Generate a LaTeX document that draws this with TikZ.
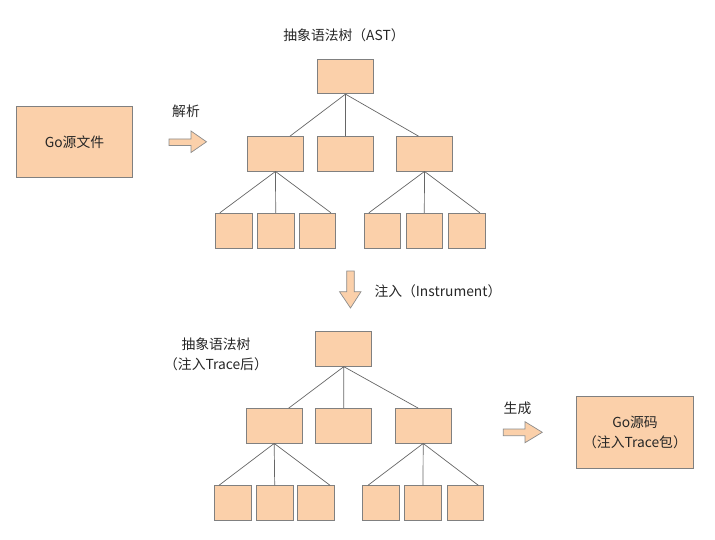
\documentclass[tikz,border=0pt]{standalone}
\usepackage{fontspec}
\setmainfont{Noto Sans CJK SC}
\begin{document}
\begin{tikzpicture}[x=1pt,y=-1pt,
  font=\fontsize{13.8}{20}\selectfont,
  every node/.style={text=black!85},
  box/.style={draw=black!50, line width=0.8pt, fill=peach, inner sep=0pt, text=black!85},
  big/.style={box, minimum width=56pt, minimum height=34.5pt},
  leaf/.style={box, minimum width=36.5pt, minimum height=35pt},
  link/.style={draw=black!60, line width=0.7pt},
  blockarrow/.style={draw=black!45, line width=0.7pt, fill=peach, line join=miter}]
\definecolor{peach}{RGB}{251,208,170}
\useasboundingbox (0,0) rectangle (715,540);

% source file and parse step
\node[box, minimum width=116.5pt, minimum height=71.5pt] (src) at (74.5,142) {Go源文件};
\node (parse) at (186,111) {解析};
\draw[blockarrow] (169,139) -- (191,139) -- (191,131) -- (206.5,141.8) -- (191,152.5) -- (191,145.5) -- (169,145.5) -- cycle;

% first syntax tree
\node (t1title) at (344,35) {抽象语法树（AST）};
\node[big] (ar) at (345.5,76.5) {};
\node[big] (al) at (275.5,153.8) {};
\node[big] (am) at (345.5,153.8) {};
\node[big] (aq) at (424.5,153.8) {};
\node[leaf] (a1) at (234,230.7) {};
\node[leaf] (a2) at (275.7,230.7) {};
\node[leaf] (a3) at (317.3,230.7) {};
\node[leaf] (a4) at (382.5,230.7) {};
\node[leaf] (a5) at (424.3,230.7) {};
\node[leaf] (a6) at (466.7,230.7) {};
\path[link] (ar.south) -- ([xshift=14.5pt]al.north)
            (ar.south) -- (am.north)
            (ar.south) -- ([xshift=-6pt]aq.north)
            (al.south) -- ([xshift=4.5pt]a1.north west)
            (al.south) -- (a2.north)
            (al.south) -- ([xshift=-5pt]a3.north east)
            (aq.south) -- ([xshift=5pt]a4.north west)
            (aq.south) -- (a5.north)
            (aq.south) -- ([xshift=-5.5pt]a6.north east);

% instrumentation step
\draw[blockarrow] (346.7,271) -- (354.3,271) -- (354.3,291.7) -- (361,291.7) -- (350.5,308) -- (339.5,291.7) -- (346.7,291.7) -- cycle;
\node[anchor=west] (inst) at (371,291.5) {注入（Instrument）};

% second syntax tree, after instrumentation
\node[align=center, inner sep=0pt] (t2title) at (216,354) {抽象语法树\\（注入Trace后）};
\node[big] (br) at (343.8,349) {};
\node[big] (bl) at (274.2,425.8) {};
\node[big] (bm) at (343.8,425.8) {};
\node[big] (bq) at (423.2,425.8) {};
\node[leaf] (b1) at (233,503.3) {};
\node[leaf] (b2) at (274.7,503.3) {};
\node[leaf] (b3) at (316,503.3) {};
\node[leaf] (b4) at (381,503.3) {};
\node[leaf] (b5) at (423,503.3) {};
\node[leaf] (b6) at (465.3,503.3) {};
\path[link] (br.south) -- ([xshift=14.5pt]bl.north)
            (br.south) -- (bm.north)
            (br.south) -- ([xshift=-5pt]bq.north)
            (bl.south) -- ([xshift=4.5pt]b1.north west)
            (bl.south) -- (b2.north)
            (bl.south) -- ([xshift=-4.5pt]b3.north east)
            (bq.south) -- ([xshift=5.5pt]b4.north west)
            (bq.south) -- (b5.north)
            (bq.south) -- ([xshift=-5.5pt]b6.north east);

% generation step and output
\node (gen) at (517.5,408) {生成};
\draw[blockarrow] (503.3,429) -- (525,429) -- (525,421.7) -- (542.3,432.3) -- (525,442.7) -- (525,435.7) -- (503.3,435.7) -- cycle;
\node[box, align=center, minimum width=116.5pt, minimum height=72pt] (out) at (635,432) {Go源码\\（注入Trace包）};
\end{tikzpicture}
\end{document}
